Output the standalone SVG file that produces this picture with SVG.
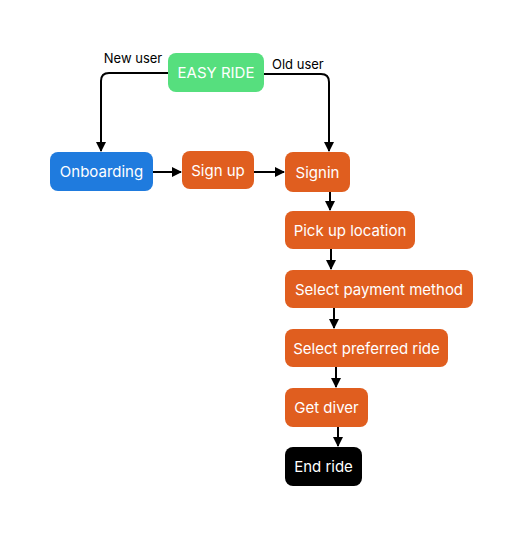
<svg xmlns="http://www.w3.org/2000/svg" width="524" height="536" viewBox="0 0 524 536">
<defs>
<style>
.n text{font-family:Inter,"Noto Sans",sans-serif;font-size:15px;fill:#fff;text-anchor:middle;dominant-baseline:central}
.o{fill:#E05E1F}
.lbl{font-family:Inter,"Noto Sans",sans-serif;font-size:13px;fill:#000}
.c path{fill:none;stroke:#000;stroke-width:2;marker-end:url(#ah)}
</style>
<marker id="ah" viewBox="0 0 10 10" refX="9" refY="5" markerWidth="5" markerHeight="5" orient="auto" markerUnits="strokeWidth">
<path d="M0,0 L10,5 L0,10 Z" fill="#000"/>
</marker>
</defs>
<rect width="524" height="536" fill="#fff"/>
<g class="c" id="connectors">
<path d="M168,73 H109 Q101,73 101,81 V151"/>
<path d="M264,74 H321 Q329,74 329,82 V151"/>
<path d="M153,172 H181"/>
<path d="M254,172 H284"/>
<path d="M330,192 V210"/>
<path d="M331,249 V269"/>
<path d="M334,308 V328"/>
<path d="M336,367 V387"/>
<path d="M338,427 V446"/>
<text class="lbl" x="133" y="63" text-anchor="middle">New user</text>
<text class="lbl" x="272" y="69">Old user</text>
</g>
<g class="n" id="easy"><rect x="168" y="53" width="96" height="39" rx="8" fill="#56DF7E"/><text x="216" y="72.5">EASY RIDE</text></g>
<g class="n" id="onboarding"><rect x="50" y="152" width="103" height="39" rx="8" fill="#1F7BDE"/><text x="101.5" y="171.5">Onboarding</text></g>
<g class="n" id="signup"><rect class="o" x="182" y="151" width="72" height="38" rx="8"/><text x="218" y="170">Sign up</text></g>
<g class="n" id="signin"><rect class="o" x="285" y="152" width="65" height="40" rx="8"/><text x="317.5" y="172">Signin</text></g>
<g class="n" id="pickup"><rect class="o" x="285" y="211" width="130" height="38" rx="8"/><text x="350" y="230">Pick up location</text></g>
<g class="n" id="payment"><rect class="o" x="285" y="270" width="188" height="38" rx="8"/><text x="379" y="289">Select payment method</text></g>
<g class="n" id="preferred"><rect class="o" x="285" y="329" width="163" height="38" rx="8"/><text x="366.5" y="348">Select preferred ride</text></g>
<g class="n" id="diver"><rect class="o" x="285" y="388" width="83" height="39" rx="8"/><text x="326.5" y="407.5">Get diver</text></g>
<g class="n" id="end"><rect x="285" y="447" width="77" height="39" rx="8" fill="#000"/><text x="323.5" y="466.5">End ride</text></g>
</svg>
